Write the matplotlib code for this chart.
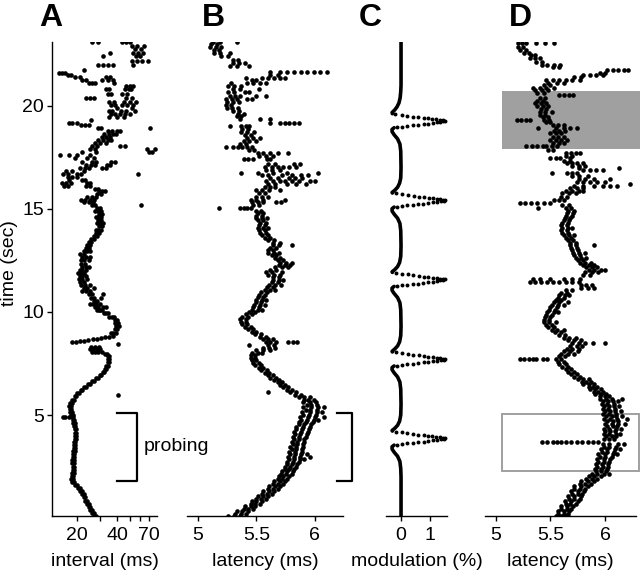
import numpy as np
import matplotlib
matplotlib.use("Agg")
import matplotlib.pyplot as plt
from matplotlib.patches import Rectangle

plt.rcParams['font.family'] = ['Liberation Sans', 'DejaVu Sans']

# ---- data: (time in sec, value, value, ...) per row ----
# panel A: inter-stimulus interval (ms)
a_rows = [
    (0.10, 27.8, 26.8), (0.25, 26.8, 25.9), (0.40, 26.0, 25.2), (0.55, 25.2, 24.5),
    (0.70, 24.5, 23.8), (0.85, 23.9, 23.2), (1.00, 23.2, 22.6), (1.15, 22.5, 21.9),
    (1.30, 21.8, 21.2), (1.45, 21.0, 20.5), (1.60, 20.0, 19.5), (1.75, 19.0, 18.5),
    (1.90, 18.6, 18.2), (2.05, 18.7, 18.3), (2.20, 18.9, 18.5), (2.35, 19.0, 18.6),
    (2.50, 19.0, 18.6), (2.65, 18.9, 18.5), (2.80, 18.9, 18.5), (2.95, 19.0, 18.6),
    (3.10, 19.1, 18.7), (3.25, 19.2, 18.8), (3.40, 19.3, 18.9), (3.55, 19.4, 19.0),
    (3.70, 19.5, 19.1), (3.85, 19.7, 19.3), (4.00, 19.8, 19.4), (4.15, 19.8, 19.4),
    (4.30, 19.6, 19.2), (4.45, 19.4, 19.0), (4.60, 19.2, 18.8), (4.75, 19.0, 18.6),
    (4.88, 18.8, 18.3, 17.3, 16.4, 15.6), (5.00, 18.6, 18.2), (5.15, 18.4, 17.9),
    (5.30, 18.1, 17.6), (5.45, 18.0, 17.5), (5.60, 18.3, 17.7), (5.75, 18.9, 18.4),
    (5.90, 19.7, 19.2), (5.97, 40.8), (6.05, 20.7, 20.2), (6.20, 22.0, 21.4),
    (6.35, 23.5, 22.8), (6.50, 25.0, 24.3), (6.65, 26.8, 26.0), (6.80, 28.8, 28.0),
    (6.95, 30.6, 29.8), (7.10, 32.0, 31.2), (7.25, 33.2, 32.4), (7.40, 34.0, 33.3),
    (7.55, 34.7, 34.0), (7.70, 35.1, 34.4), (7.85, 35.0, 34.2), (7.98, 33.5, 32.5),
    (8.08, 31.0, 29.0, 27.5, 26.2), (8.20, 28.5, 26.5, 25.0, 30.0), (8.32, 27.5, 25.5, 29.5),
    (8.45, 41.0), (8.52, 18.3, 19.6), (8.57, 21.2, 22.8), (8.62, 24.4),
    (8.67, 26.5, 28.4), (8.72, 30.5), (8.78, 32.8, 35.0), (8.85, 37.5),
    (8.98, 37.2, 39.2, 35.8), (9.15, 38.5, 40.2), (9.32, 39.5, 41.5), (9.48, 40.0, 41.0, 38.8),
    (9.62, 38.5, 40.0), (9.78, 36.5, 38.0, 35.0), (9.95, 34.0, 32.0, 33.0),
    (10.10, 30.0, 28.5, 31.0, 29.2), (10.25, 29.0, 27.5, 31.5, 33.0), (10.40, 28.0, 26.5, 30.0, 25.0),
    (10.55, 28.5, 27.0), (10.70, 27.0, 25.5, 30.5), (10.85, 26.0, 24.5, 31.5),
    (11.00, 25.0, 23.5, 22.0), (11.15, 24.0, 22.5, 27.0), (11.30, 23.0, 21.5, 25.0),
    (11.45, 22.5, 21.0), (11.60, 22.0, 20.7, 24.0), (11.75, 22.0, 21.0, 23.5),
    (11.90, 21.5, 20.5, 22.5), (12.05, 21.0, 22.0, 23.5), (12.20, 22.0, 23.5, 24.5),
    (12.35, 23.0, 21.5), (12.50, 21.5, 22.5, 24.5), (12.65, 22.0, 23.5, 25.0),
    (12.80, 21.0, 22.5), (12.95, 22.5, 24.0, 25.0), (13.10, 23.5, 24.5), (13.25, 24.0, 25.0),
    (13.40, 24.5, 25.5), (13.55, 25.5, 27.0), (13.70, 27.0, 28.5), (13.85, 28.0, 29.5),
    (14.00, 29.0, 30.5, 28.0), (14.15, 29.5, 31.0), (14.30, 28.5, 30.0, 31.5),
    (14.45, 29.0, 30.5), (14.60, 29.0, 30.5, 28.0), (14.75, 29.5, 31.0),
    (14.90, 29.0, 30.5, 27.5), (15.05, 28.5, 30.0), (15.18, 27.5, 26.0, 61.0),
    (15.32, 24.5, 22.5, 26.5), (15.45, 21.5, 23.0, 25.0, 27.0), (15.58, 26.0, 28.0, 24.0),
    (15.72, 28.5, 30.5), (15.85, 29.5, 31.0, 32.5), (15.98, 27.5, 29.0),
    (16.10, 25.0, 23.5, 16.0, 17.0), (16.25, 15.5, 16.5, 18.0, 24.0, 25.0),
    (16.40, 23.0, 22.0, 17.5), (16.55, 17.0, 18.5, 20.0), (16.70, 15.8, 17.0, 20.0, 21.5, 57.5),
    (16.85, 16.5, 18.5, 22.5), (17.00, 21.0, 23.0, 24.5, 31.0, 33.0),
    (17.15, 23.5, 25.5, 27.5, 33.5, 35.5), (17.30, 22.0, 26.0, 28.0, 36.0, 38.5),
    (17.45, 19.5, 24.0, 27.0), (17.60, 14.9, 17.5, 20.0, 25.0), (17.75, 22.0, 28.0, 70.0, 74.0),
    (17.90, 25.0, 27.5, 67.0, 77.0), (18.05, 26.0, 28.5, 42.0, 46.0), (18.20, 27.5, 30.0, 33.0),
    (18.35, 29.0, 31.5, 34.0, 36.0), (18.50, 31.0, 33.0, 35.5), (18.65, 32.0, 35.0, 37.5, 39.5),
    (18.80, 34.0, 36.5, 40.0, 42.0), (18.95, 29.0, 30.5, 71.0), (19.05, 21.5, 23.0, 24.5),
    (19.15, 17.5, 18.5, 20.0), (19.30, 25.5), (19.45, 35.0, 40.0, 45.0),
    (19.60, 36.0, 38.5, 42.0, 46.0, 50.0), (19.75, 35.0, 37.0, 43.0, 47.0, 55.0),
    (19.90, 40.0, 52.0), (20.05, 36.0, 39.0, 44.0, 48.0, 53.0), (20.20, 35.0, 38.0, 45.0, 50.0, 56.0),
    (20.40, 23.5, 25.0, 27.0, 47.0, 52.0), (20.60, 34.0, 36.0, 44.0, 48.0),
    (20.80, 33.0, 35.0, 46.0, 49.0, 51.0), (20.95, 47.0, 50.0, 53.0), (21.10, 24.5, 26.0, 27.5, 38.0),
    (21.25, 22.0, 23.5, 31.0, 34.5, 37.5), (21.40, 19.5, 21.0, 33.0, 35.5), (21.52, 17.0, 18.2),
    (21.62, 14.8, 15.5, 16.2), (21.75, 22.5), (22.00, 29.0, 31.5, 34.0, 37.5, 53.0),
    (22.20, 52.0, 57.0, 62.0, 68.0), (22.40, 31.5, 56.0, 60.0), (22.55, 35.5, 53.0, 58.0, 63.0),
    (22.75, 55.0, 61.0), (22.90, 52.0, 57.0, 64.0), (23.10, 26.0, 29.0, 44.0, 47.0, 50.0),
]

# panel B: latency (ms)
b_rows = [
    (0.10, 5.26, 5.31, 5.36), (0.22, 5.32, 5.37, 5.41), (0.34, 5.33, 5.38, 5.43),
    (0.46, 5.39, 5.43, 5.47), (0.58, 5.40, 5.45, 5.49), (0.70, 5.45, 5.49, 5.53),
    (0.82, 5.46, 5.50, 5.55), (0.94, 5.50, 5.54, 5.58), (1.06, 5.51, 5.56, 5.60),
    (1.18, 5.55, 5.59, 5.63), (1.30, 5.56, 5.61, 5.65), (1.42, 5.60, 5.64, 5.68),
    (1.54, 5.61, 5.66, 5.70), (1.66, 5.64, 5.68, 5.73), (1.78, 5.65, 5.70, 5.74),
    (1.90, 5.68, 5.72, 5.76), (2.02, 5.69, 5.73, 5.78), (2.14, 5.71, 5.75, 5.80),
    (2.26, 5.72, 5.76, 5.81), (2.38, 5.74, 5.78, 5.82), (2.50, 5.74, 5.79, 5.84),
    (2.62, 5.76, 5.80, 5.85), (2.74, 5.76, 5.81, 5.86), (2.86, 5.78, 5.82, 5.87, 5.91),
    (2.98, 5.77, 5.82, 5.87, 5.96), (3.10, 5.79, 5.83, 5.88, 5.93), (3.22, 5.78, 5.83, 5.89),
    (3.34, 5.80, 5.84, 5.89), (3.46, 5.79, 5.84, 5.90), (3.58, 5.81, 5.85, 5.90),
    (3.70, 5.80, 5.85, 5.91), (3.82, 5.82, 5.86, 5.91), (3.94, 5.81, 5.86, 5.92),
    (4.06, 5.83, 5.87, 5.93), (4.18, 5.82, 5.88, 5.94), (4.30, 5.84, 5.89, 5.95),
    (4.42, 5.84, 5.90, 5.96), (4.54, 5.86, 5.91, 5.97), (4.66, 5.86, 5.92, 5.98),
    (4.78, 5.88, 5.93, 5.99, 6.03), (4.90, 5.87, 5.94, 6.00, 6.08), (5.02, 5.90, 5.95, 6.01),
    (5.14, 5.89, 5.96, 6.02, 6.06), (5.26, 5.92, 5.96, 6.02), (5.38, 5.90, 5.97, 6.03, 6.08),
    (5.50, 5.93, 5.97, 6.02), (5.62, 5.90, 5.96, 6.01), (5.74, 5.91, 5.94, 5.99),
    (5.86, 5.86, 5.91, 5.96), (5.98, 5.83, 5.88), (6.10, 5.79, 5.84, 5.60),
    (6.22, 5.76, 5.80), (6.34, 5.73, 5.77), (6.46, 5.70, 5.74), (6.58, 5.68, 5.72),
    (6.70, 5.65, 5.69), (6.82, 5.62, 5.67), (6.94, 5.60, 5.64), (7.06, 5.57, 5.61),
    (7.18, 5.54, 5.59), (7.30, 5.52, 5.56), (7.42, 5.49, 5.54), (7.54, 5.47, 5.52),
    (7.66, 5.46, 5.50), (7.78, 5.45, 5.49), (7.90, 5.45, 5.49), (8.02, 5.46, 5.51, 5.55),
    (8.14, 5.50, 5.56, 5.62), (8.26, 5.56, 5.61, 5.66), (8.40, 5.44, 5.60, 5.65),
    (8.55, 5.58, 5.62, 5.67, 5.77, 5.81, 5.85), (8.68, 5.56, 5.60, 5.64), (8.80, 5.53, 5.58),
    (8.92, 5.49, 5.54), (9.04, 5.46, 5.50), (9.16, 5.43, 5.47), (9.28, 5.40, 5.45),
    (9.40, 5.38, 5.42), (9.52, 5.37, 5.41), (9.64, 5.36, 5.41), (9.76, 5.38, 5.43),
    (9.88, 5.41, 5.46), (10.00, 5.44, 5.49), (10.12, 5.46, 5.51, 5.55), (10.24, 5.47, 5.52),
    (10.36, 5.48, 5.53, 5.57), (10.48, 5.50, 5.54), (10.60, 5.50, 5.55, 5.58),
    (10.72, 5.51, 5.56), (10.84, 5.52, 5.57), (10.96, 5.54, 5.59), (11.08, 5.57, 5.62, 5.66),
    (11.20, 5.59, 5.64), (11.32, 5.61, 5.66, 5.71), (11.44, 5.63, 5.68), (11.56, 5.64, 5.69, 5.73),
    (11.68, 5.64, 5.69), (11.80, 5.60, 5.65, 5.70), (11.92, 5.58, 5.63, 5.72), (12.04, 5.62, 5.67),
    (12.16, 5.66, 5.72, 5.77), (12.28, 5.69, 5.74, 5.79), (12.40, 5.70, 5.75, 5.80),
    (12.52, 5.68, 5.73), (12.64, 5.66, 5.70), (12.76, 5.63, 5.67), (12.88, 5.60, 5.65, 5.69),
    (13.00, 5.60, 5.64), (13.12, 5.62, 5.67), (13.24, 5.64, 5.69, 5.80), (13.36, 5.64, 5.70),
    (13.48, 5.60, 5.65), (13.60, 5.57, 5.62), (13.72, 5.55, 5.60), (13.84, 5.53, 5.58),
    (13.96, 5.52, 5.57), (14.08, 5.51, 5.56, 5.60), (14.20, 5.52, 5.57), (14.32, 5.53, 5.58),
    (14.44, 5.51, 5.56), (14.56, 5.50, 5.55, 5.59), (14.68, 5.50, 5.55), (14.80, 5.51, 5.56),
    (14.92, 5.50, 5.54), (15.05, 5.18, 5.36, 5.39, 5.42, 5.45), (15.18, 5.47, 5.52),
    (15.32, 5.46, 5.51, 5.56, 5.67, 5.71), (15.45, 5.45, 5.50, 5.56, 5.74), (15.60, 5.50, 5.55, 5.60),
    (15.75, 5.52, 5.57), (15.90, 5.50, 5.55, 5.61, 5.70), (16.05, 5.57, 5.62, 5.66),
    (16.20, 5.60, 5.66, 5.76, 5.84, 5.92), (16.35, 5.58, 5.64, 5.70, 5.74, 5.80, 5.86, 5.96, 6.00),
    (16.50, 5.62, 5.68, 5.78, 5.83, 5.89), (16.65, 5.55, 5.60, 5.72, 5.80, 5.88, 5.94),
    (16.75, 5.37, 5.51, 5.64, 5.76, 6.03), (16.90, 5.58, 5.63, 5.70),
    (17.05, 5.57, 5.63, 5.68, 5.73, 5.78, 5.84), (17.20, 5.60, 5.66, 5.82, 5.87),
    (17.40, 5.39, 5.43, 5.47, 5.59, 5.62), (17.55, 5.52, 5.58, 5.64),
    (17.70, 5.51, 5.56, 5.62, 5.68, 5.77), (17.85, 5.44, 5.48),
    (18.00, 5.24, 5.30, 5.34, 5.38, 5.42, 5.46), (18.15, 5.36, 5.41), (18.30, 5.39, 5.44, 5.50),
    (18.45, 5.42, 5.47, 5.53), (18.60, 5.40, 5.45), (18.75, 5.37, 5.42, 5.48), (18.88, 5.38, 5.43),
    (19.00, 5.27, 5.37, 5.41, 5.44), (19.15, 5.62, 5.70, 5.74, 5.78, 5.82, 5.86),
    (19.35, 5.53, 5.62, 5.36), (19.50, 5.33, 5.37), (19.62, 5.34, 5.39), (19.75, 5.30, 5.35),
    (19.90, 5.25, 5.29, 5.34), (20.05, 5.24, 5.28), (20.20, 5.25, 5.30, 5.35),
    (20.35, 5.24, 5.29, 5.33, 5.42, 5.46), (20.50, 5.27, 5.32, 5.36, 5.50, 5.58),
    (20.65, 5.26, 5.31, 5.40, 5.44), (20.80, 5.30, 5.36, 5.52), (20.95, 5.26, 5.31, 5.37),
    (21.10, 5.28, 5.42, 5.47, 5.53, 5.58), (21.25, 5.46, 5.50),
    (21.35, 5.41, 5.55, 5.60, 5.65, 5.70, 5.74), (21.50, 5.62, 5.68),
    (21.65, 5.62, 5.70, 5.76, 5.82, 5.88, 5.93, 5.99, 6.04, 6.10),
    (21.95, 5.27, 5.33, 5.44), (22.10, 5.30, 5.35, 5.40), (22.25, 5.30, 5.34), (22.40, 5.20, 5.26),
    (22.55, 5.14, 5.19, 5.27), (22.70, 5.14, 5.18), (22.85, 5.10, 5.15, 5.20), (23.00, 5.11, 5.16),
    (23.10, 5.13, 5.19, 5.33),
]

# panel C: modulation (%) - continuous stretches (nan = break) and the sparse dots of each swing
c_line_t = [23.1, 21.0, 20.7, 20.4, 20.15, 19.95, 19.8, 19.68, 19.62, np.nan,
            18.94, 18.86, 18.75, 18.6, 18.4, 18.15, 17.8, 17.0, 16.5, 16.25, 16.05, 15.9, 15.8, 15.77, np.nan,
            15.09, 15.01, 14.9, 14.75, 14.55, 14.3, 13.95, 13.2, 12.7, 12.4, 12.2, 12.05, 11.95, 11.92, np.nan,
            11.24, 11.16, 11.05, 10.9, 10.7, 10.45, 10.1, 9.3, 8.85, 8.55, 8.35, 8.2, 8.09, 8.06, np.nan,
            7.38, 7.3, 7.2, 7.05, 6.85, 6.6, 6.25, 5.5, 5.0, 4.7, 4.5, 4.35, 4.25, 4.22, np.nan,
            3.54, 3.46, 3.35, 3.2, 3.0, 2.75, 2.4, 2.0, 0.1]
c_line_m = [0, 0, -0.01, -0.03, -0.07, -0.14, -0.22, -0.31, -0.30, np.nan,
            -0.24, -0.31, -0.31, -0.24, -0.12, -0.04, -0.01, 0, -0.01, -0.05, -0.12, -0.22, -0.31, -0.30, np.nan,
            -0.24, -0.31, -0.31, -0.24, -0.12, -0.04, -0.01, 0, -0.01, -0.05, -0.12, -0.22, -0.31, -0.30, np.nan,
            -0.24, -0.31, -0.31, -0.24, -0.12, -0.04, -0.01, 0, -0.01, -0.05, -0.12, -0.22, -0.31, -0.30, np.nan,
            -0.24, -0.31, -0.31, -0.24, -0.12, -0.04, -0.01, 0, -0.01, -0.05, -0.12, -0.22, -0.31, -0.30, np.nan,
            -0.24, -0.31, -0.31, -0.24, -0.12, -0.04, -0.01, 0, 0]
c_dot_t = [19.60, 19.56, 19.52, 19.48, 19.45, 19.42, 19.39, 19.36, 19.34, 19.32, 19.30, 19.28,
           19.25, 19.23, 19.20, 19.17, 19.14, 19.11, 19.08, 19.05, 19.02, 18.99, 18.96,
           15.75, 15.71, 15.67, 15.63, 15.60, 15.57, 15.54, 15.51, 15.49, 15.47, 15.45, 15.43,
           15.40, 15.38, 15.35, 15.32, 15.29, 15.26, 15.23, 15.20, 15.17, 15.14, 15.11,
           11.90, 11.86, 11.82, 11.78, 11.75, 11.72, 11.69, 11.66, 11.64, 11.62, 11.60, 11.58,
           11.55, 11.53, 11.50, 11.47, 11.44, 11.41, 11.38, 11.35, 11.32, 11.29, 11.26,
           8.04, 8.00, 7.96, 7.92, 7.89, 7.86, 7.83, 7.80, 7.78, 7.76, 7.74, 7.72,
           7.69, 7.67, 7.64, 7.61, 7.58, 7.55, 7.52, 7.49, 7.46, 7.43, 7.40,
           4.20, 4.16, 4.12, 4.08, 4.05, 4.02, 3.99, 3.96, 3.94, 3.92, 3.90, 3.88,
           3.85, 3.83, 3.80, 3.77, 3.74, 3.71, 3.68, 3.65, 3.62, 3.59, 3.56]
c_dot_m = [-0.20, 0.02, 0.22, 0.42, 0.60, 0.78, 0.94, 1.08, 1.22, 1.34, 1.44, 1.52,
           1.46, 1.36, 1.24, 1.10, 0.95, 0.78, 0.60, 0.42, 0.22, 0.04, -0.14,
           -0.18, 0.04, 0.24, 0.44, 0.62, 0.80, 0.96, 1.10, 1.24, 1.36, 1.45, 1.53,
           1.47, 1.37, 1.25, 1.10, 0.94, 0.77, 0.59, 0.41, 0.22, 0.04, -0.15,
           -0.19, 0.03, 0.23, 0.43, 0.61, 0.79, 0.95, 1.09, 1.23, 1.35, 1.45, 1.52,
           1.46, 1.36, 1.24, 1.09, 0.94, 0.77, 0.59, 0.41, 0.21, 0.03, -0.15,
           -0.18, 0.03, 0.23, 0.43, 0.61, 0.79, 0.95, 1.09, 1.23, 1.35, 1.45, 1.53,
           1.47, 1.37, 1.25, 1.10, 0.95, 0.78, 0.60, 0.42, 0.22, 0.04, -0.14,
           -0.19, 0.02, 0.22, 0.42, 0.60, 0.78, 0.94, 1.08, 1.22, 1.34, 1.45, 1.53,
           1.47, 1.37, 1.25, 1.10, 0.95, 0.78, 0.60, 0.42, 0.22, 0.04, -0.14]

# panel D: latency (ms) under the same protocol
d_rows = [
    (0.10, 5.55, 5.60, 5.64), (0.22, 5.57, 5.62, 5.66), (0.34, 5.57, 5.62, 5.67),
    (0.46, 5.60, 5.65, 5.69), (0.58, 5.60, 5.65, 5.71), (0.70, 5.64, 5.68, 5.73),
    (0.82, 5.63, 5.69, 5.75), (0.94, 5.67, 5.72, 5.77), (1.06, 5.66, 5.72, 5.78),
    (1.18, 5.70, 5.75, 5.79), (1.30, 5.69, 5.75, 5.81), (1.42, 5.72, 5.77, 5.82),
    (1.54, 5.72, 5.78, 5.84), (1.66, 5.77, 5.82, 5.87), (1.78, 5.78, 5.84, 5.90),
    (1.90, 5.83, 5.88, 5.93), (2.02, 5.85, 5.90, 5.96), (2.14, 5.88, 5.93, 5.99, 6.04),
    (2.26, 5.92, 5.96, 6.01), (2.38, 5.91, 5.96, 6.02), (2.50, 5.93, 5.98, 6.03),
    (2.62, 5.92, 5.97, 6.03), (2.74, 5.94, 5.99, 6.04), (2.86, 5.93, 5.99, 6.05),
    (2.98, 5.95, 6.00, 6.06), (3.10, 5.94, 6.00, 6.07, 6.11), (3.22, 5.97, 6.02, 6.08),
    (3.34, 5.96, 6.02, 6.09, 6.14), (3.46, 5.99, 6.04, 6.10), (3.58, 5.98, 6.04, 6.12, 6.17),
    (3.70, 5.42, 5.47, 5.52, 5.56, 5.60, 5.64, 5.69, 5.74, 5.79, 5.84, 5.89, 5.94),
    (3.85, 5.99, 6.04, 6.08), (3.98, 6.01, 6.06, 6.10), (4.10, 5.99, 6.04, 6.10, 6.14),
    (4.22, 6.00, 6.05, 6.09), (4.34, 5.99, 6.04, 6.10, 6.15), (4.46, 6.02, 6.07, 6.11),
    (4.58, 6.00, 6.06, 6.12, 6.18), (4.70, 6.02, 6.07, 6.12), (4.82, 5.99, 6.05, 6.11, 6.20),
    (4.94, 6.01, 6.06, 6.10, 6.16), (5.06, 5.98, 6.04, 6.10), (5.18, 6.00, 6.05, 6.09, 6.15),
    (5.30, 5.98, 6.03, 6.09), (5.42, 5.99, 6.04, 6.08, 6.13), (5.54, 5.97, 6.02, 6.08),
    (5.66, 5.98, 6.03, 6.07, 6.12), (5.78, 5.95, 6.01, 6.06, 6.16), (5.90, 5.95, 6.00, 6.04),
    (6.02, 5.91, 5.96, 6.01), (6.14, 5.90, 5.94, 5.98), (6.26, 5.86, 5.91, 5.96),
    (6.38, 5.85, 5.89, 5.93), (6.50, 5.80, 5.85, 5.90), (6.62, 5.79, 5.83, 5.87),
    (6.74, 5.75, 5.80, 5.85), (6.86, 5.72, 5.77), (6.98, 5.69, 5.74), (7.10, 5.66, 5.72),
    (7.22, 5.64, 5.69), (7.34, 5.61, 5.66), (7.46, 5.58, 5.64), (7.58, 5.57, 5.62),
    (7.72, 5.22, 5.26, 5.30, 5.34, 5.37, 5.43, 5.47, 5.55, 5.60), (7.86, 5.58, 5.63),
    (7.98, 5.60, 5.66, 5.72), (8.10, 5.62, 5.68, 5.75), (8.22, 5.65, 5.70, 5.76),
    (8.34, 5.68, 5.74, 5.79), (8.48, 5.70, 5.76, 5.82, 5.89, 6.00), (8.62, 5.66, 5.72, 5.78),
    (8.76, 5.62, 5.67, 5.73), (8.90, 5.58, 5.63), (9.02, 5.54, 5.60), (9.14, 5.51, 5.56, 5.62),
    (9.26, 5.48, 5.53), (9.38, 5.46, 5.51), (9.50, 5.44, 5.49, 5.55), (9.62, 5.44, 5.49),
    (9.74, 5.45, 5.50), (9.86, 5.46, 5.51), (9.98, 5.47, 5.53, 5.57), (10.10, 5.49, 5.54),
    (10.22, 5.50, 5.56), (10.34, 5.51, 5.57, 5.62), (10.46, 5.53, 5.58, 5.66), (10.58, 5.55, 5.60),
    (10.70, 5.57, 5.62), (10.82, 5.58, 5.63, 5.67), (10.94, 5.60, 5.65), (11.06, 5.64, 5.70),
    (11.18, 5.78, 5.84, 5.90), (11.30, 5.78, 5.83, 5.88),
    (11.45, 5.31, 5.36, 5.41, 5.47, 5.52, 5.58, 5.64, 5.70, 5.76),
    (11.62, 5.34, 5.40, 5.50, 5.62, 5.70, 5.77), (11.78, 5.80, 5.86), (11.92, 5.82, 5.88, 5.94),
    (12.04, 5.85, 5.90, 5.96, 6.00), (12.16, 5.83, 5.88, 5.93), (12.28, 5.80, 5.85, 5.90),
    (12.40, 5.77, 5.82, 5.87), (12.52, 5.75, 5.80), (12.64, 5.73, 5.78, 5.83), (12.76, 5.72, 5.77),
    (12.88, 5.71, 5.76, 5.82), (13.00, 5.70, 5.75), (13.12, 5.69, 5.74), (13.24, 5.68, 5.73, 5.90),
    (13.36, 5.68, 5.73), (13.48, 5.66, 5.71), (13.60, 5.64, 5.69), (13.72, 5.62, 5.67, 5.72),
    (13.84, 5.61, 5.66), (13.96, 5.60, 5.65), (14.08, 5.61, 5.66, 5.70), (14.20, 5.60, 5.65),
    (14.32, 5.61, 5.66), (14.44, 5.62, 5.67), (14.56, 5.63, 5.68), (14.68, 5.64, 5.70),
    (14.80, 5.65, 5.71), (14.92, 5.66, 5.72), (15.05, 5.64, 5.69, 5.39), (15.20, 5.61, 5.67),
    (15.30, 5.22, 5.27, 5.32, 5.38, 5.44, 5.50), (15.45, 5.53, 5.58, 5.62), (15.60, 5.60, 5.65),
    (15.75, 5.61, 5.67, 5.73), (15.88, 5.64, 5.70, 5.76, 5.80), (16.00, 5.68, 5.74, 5.80),
    (16.12, 5.72, 5.80, 5.90, 5.98, 6.05, 6.11), (16.22, 6.23), (16.30, 5.74, 5.80, 5.86, 5.93, 6.00),
    (16.45, 5.76, 5.82, 5.90, 6.05), (16.60, 5.70, 5.76, 5.84), (16.73, 5.51, 5.65, 5.70, 5.74),
    (16.88, 5.80, 5.86, 5.92, 5.98), (16.98, 5.76, 6.13), (17.10, 5.70, 5.76, 5.82),
    (17.22, 5.65, 5.70, 5.74, 5.80), (17.34, 5.62, 5.68), (17.46, 5.50, 5.55, 5.59, 5.68),
    (17.58, 5.64, 5.70), (17.70, 5.64, 5.69, 5.73, 5.77), (17.85, 5.48, 5.52),
    (18.03, 5.28, 5.33, 5.38, 5.43, 5.46, 5.51, 5.56), (18.20, 5.52, 5.58, 5.62),
    (18.35, 5.50, 5.55, 5.60, 5.65), (18.50, 5.52, 5.57, 5.62), (18.67, 5.50, 5.55, 5.60),
    (18.80, 5.53, 5.58, 5.63), (18.92, 5.39, 5.55, 5.62, 5.68, 5.74), (19.05, 5.52, 5.57, 5.62),
    (19.20, 5.46, 5.50), (19.32, 5.19, 5.23, 5.28, 5.31, 5.44, 5.49), (19.45, 5.43, 5.48),
    (19.58, 5.40, 5.45), (19.72, 5.40, 5.45, 5.51), (19.85, 5.41, 5.46), (19.98, 5.38, 5.43, 5.48),
    (20.12, 5.36, 5.41, 5.46), (20.25, 5.38, 5.43), (20.40, 5.40, 5.45),
    (20.53, 5.58, 5.62, 5.67, 5.71), (20.62, 5.38, 5.44), (20.75, 5.36, 5.42, 5.48),
    (20.88, 5.34, 5.40, 5.46, 5.53), (21.00, 5.44, 5.50), (21.13, 5.48, 5.56, 5.62),
    (21.26, 5.46, 5.52, 5.58, 5.64, 5.70, 5.77), (21.40, 5.72, 5.78), (21.50, 5.80, 5.86, 5.92, 5.98),
    (21.62, 5.95, 6.00), (21.72, 6.02, 6.07, 6.12, 6.17, 6.21), (21.90, 5.52, 5.58),
    (22.00, 5.42, 5.47, 5.53, 5.59), (22.15, 5.37, 5.42), (22.30, 5.31, 5.36, 5.40),
    (22.45, 5.32, 5.36), (22.58, 5.26, 5.30), (22.72, 5.22, 5.28), (22.88, 5.20, 5.25),
    (23.04, 5.20, 5.24, 5.28, 5.37, 5.45, 5.53),
]

probe_on, probe_off = 1.8, 5.1        # probing epoch (sec)
shade_lo, shade_hi = 17.9, 20.7       # grey band in D
box_lo, box_hi = 2.28, 5.05           # outlined box in D


def flatten(rows):
    t, v = [], []
    for r in rows:
        for x in r[1:]:
            t.append(r[0])
            v.append(x)
    return np.array(t), np.array(v)


fig = plt.figure(figsize=(6.4, 5.77), dpi=100)
W, H = 640.0, 577.0
bot, top = 516.0, 42.0
fs = 14


def make_ax(x0, x1):
    ax = fig.add_axes([x0 / W, 1 - bot / H, (x1 - x0) / W, (bot - top) / H])
    ax.patch.set_visible(False)
    ax.set_ylim(0.1, 23.1)
    for s in ['top', 'right', 'left']:
        ax.spines[s].set_visible(False)
    ax.spines['bottom'].set_linewidth(1.0)
    ax.tick_params(axis='x', direction='out', length=3.6, width=1.0, pad=4.5, labelsize=fs)
    ax.set_yticks([])
    return ax


dot = dict(s=11, c='black', linewidths=0)

# A
ax_a = make_ax(52, 157)
ax_a.spines['left'].set_visible(True)
ax_a.spines['left'].set_linewidth(1.0)
ax_a.set_xscale('log')
ax_a.set_xlim(13, 80)
ax_a.set_xticks([20, 30, 40, 50, 60, 70])
ax_a.set_xticklabels(['20', '', '40', '', '', '70'])
ax_a.xaxis.set_minor_locator(matplotlib.ticker.NullLocator())
ax_a.set_yticks([5, 10, 15, 20])
ax_a.tick_params(axis='y', direction='out', length=3.6, width=1.0, pad=2, labelsize=fs)
t, v = flatten(a_rows)
ax_a.scatter(v, t, **dot)
ax_a.set_xlabel('interval (ms)', fontsize=fs, labelpad=6)
ax_a.plot([40, 56.5, 56.5, 40], [probe_off, probe_off, probe_on, probe_on],
          color='black', lw=1.6, clip_on=False)
ax_a.text(64, (probe_on + probe_off) / 2, 'probing', fontsize=fs,
          ha='left', va='center', clip_on=False, zorder=5)

# B
ax_b = make_ax(187, 343)
ax_b.set_xlim(4.906, 6.24)
ax_b.set_xticks([5, 5.5, 6])
ax_b.set_xticklabels(['5', '5.5', '6'])
t, v = flatten(b_rows)
ax_b.scatter(v, t, **dot)
ax_b.set_xlabel('latency (ms)', fontsize=fs, labelpad=6)
ax_b.plot([6.185, 6.316, 6.316, 6.185], [probe_off, probe_off, probe_on, probe_on],
          color='black', lw=1.6, clip_on=False)

# C
ax_c = make_ax(386, 447)
ax_c.set_xlim(-0.52, 1.59)
ax_c.set_xticks([0, 1])
ax_c.plot(c_line_m, c_line_t, color='black', lw=2.6, solid_capstyle='round')
ax_c.scatter(c_dot_m, c_dot_t, s=8, c='black', linewidths=0)
ax_c.set_xlabel('modulation (%)', fontsize=fs, labelpad=6)

# D
ax_d = make_ax(485, 636)
ax_d.set_xlim(4.9, 6.284)
ax_d.set_xticks([5, 5.5, 6])
ax_d.set_xticklabels(['5', '5.5', '6'])
ax_d.add_patch(Rectangle((5.055, shade_lo), 1.27, shade_hi - shade_lo, facecolor='#a0a0a0',
                         edgecolor='none', zorder=0, clip_on=False))
ax_d.add_patch(Rectangle((5.055, box_lo), 1.255, box_hi - box_lo, fill=False,
                         edgecolor='#a0a0a0', lw=1.4, zorder=1, clip_on=False))
t, v = flatten(d_rows)
ax_d.scatter(v, t, zorder=2, **dot)
ax_d.set_xlabel('latency (ms)', fontsize=fs, labelpad=6)

fig.text(9 / W, 1 - 263 / H, 'time (sec)', rotation=90, fontsize=fs, ha='center', va='center')
for lab, xc in zip('ABCD', [51, 213, 370, 520]):
    fig.text(xc / W, 1 - 18 / H, lab, fontsize=23, fontweight='bold', ha='center', va='center')

fig.savefig('out.png', dpi=100)
